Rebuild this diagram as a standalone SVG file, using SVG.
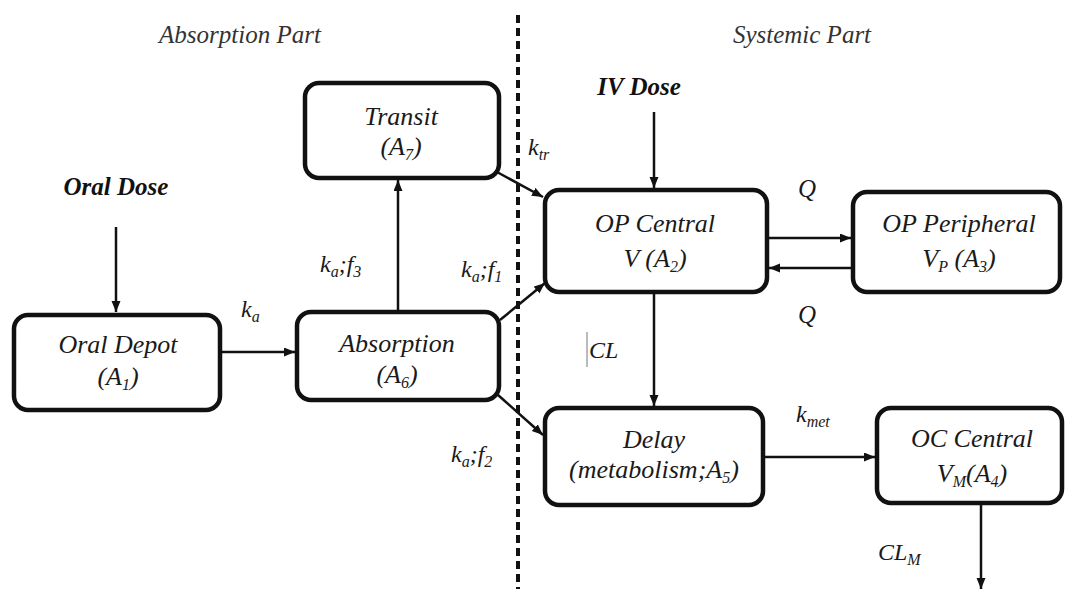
<svg xmlns="http://www.w3.org/2000/svg" width="1068" height="589" viewBox="0 0 1068 589">
<style>
.box{fill:#fff;stroke:#111;stroke-width:4.5}
.c{fill:none;stroke:#111;stroke-width:2.5}
</style>
<defs>
<marker id="ah" markerUnits="userSpaceOnUse" markerWidth="12" markerHeight="10" refX="11" refY="4.5" orient="auto">
<path d="M0,0 L11,4.5 L0,9 z" fill="#111"/>
</marker>
</defs>
<rect width="1068" height="589" fill="#fff"/>
<line x1="518" y1="15" x2="518" y2="589" stroke="#111" stroke-width="4" stroke-dasharray="8 5"/>
<text x="240" y="43" font-family="Times New Roman" font-style="italic" font-size="25" text-anchor="middle" fill="#333">Absorption Part</text>
<text x="802" y="43" font-family="Times New Roman" font-style="italic" font-size="25" text-anchor="middle" fill="#333">Systemic Part</text>
<text x="116" y="195" font-family="Times New Roman" font-style="italic" font-weight="bold" font-size="25" text-anchor="middle" fill="#111">Oral Dose</text>
<text x="639" y="95" font-family="Times New Roman" font-style="italic" font-weight="bold" font-size="25" text-anchor="middle" fill="#111">IV Dose</text>
<g id="connectors">
<path class="c" d="M116,227 V312" marker-end="url(#ah)"/>
<path class="c" d="M220,352 H295" marker-end="url(#ah)"/>
<path class="c" d="M398,311 V180" marker-end="url(#ah)"/>
<path class="c" d="M497,172 L543,197" marker-end="url(#ah)"/>
<path class="c" d="M500,320 L545,283" marker-end="url(#ah)"/>
<path class="c" d="M498,395 L543,435" marker-end="url(#ah)"/>
<path class="c" d="M654,112 V188" marker-end="url(#ah)"/>
<path class="c" d="M767,238 H851" marker-end="url(#ah)"/>
<path class="c" d="M853,268 H769" marker-end="url(#ah)"/>
<path class="c" d="M654,292 V406" marker-end="url(#ah)"/>
<path class="c" d="M763,457 H875" marker-end="url(#ah)"/>
<path class="c" d="M981,503 V589" marker-end="url(#ah)"/>
<line x1="587" y1="332" x2="587" y2="367" stroke="#777" stroke-width="1"/>
<text x="241" y="317" font-family="Times New Roman" font-style="italic" font-size="24" fill="#1a1a1a">k<tspan font-size="16" dy="5">a</tspan></text>
<text x="320" y="272" font-family="Times New Roman" font-style="italic" font-size="24" fill="#1a1a1a">k<tspan font-size="16" dy="5">a</tspan><tspan dy="-5">;f</tspan><tspan font-size="16" dy="5">3</tspan></text>
<text x="461" y="277" font-family="Times New Roman" font-style="italic" font-size="24" fill="#1a1a1a">k<tspan font-size="16" dy="5">a</tspan><tspan dy="-5">;f</tspan><tspan font-size="16" dy="5">1</tspan></text>
<text x="451" y="462" font-family="Times New Roman" font-style="italic" font-size="24" fill="#1a1a1a">k<tspan font-size="16" dy="5">a</tspan><tspan dy="-5">;f</tspan><tspan font-size="16" dy="5">2</tspan></text>
<text x="528" y="155" font-family="Times New Roman" font-style="italic" font-size="24" fill="#1a1a1a">k<tspan font-size="16" dy="5">tr</tspan></text>
<text x="798" y="197" font-family="Times New Roman" font-style="italic" font-size="25" fill="#1a1a1a">Q</text>
<text x="798" y="323" font-family="Times New Roman" font-style="italic" font-size="25" fill="#1a1a1a">Q</text>
<text x="589" y="358" font-family="Times New Roman" font-style="italic" font-size="24" fill="#1a1a1a">CL</text>
<text x="796" y="422" font-family="Times New Roman" font-style="italic" font-size="24" fill="#1a1a1a">k<tspan font-size="16" dy="5">met</tspan></text>
<text x="878" y="560" font-family="Times New Roman" font-style="italic" font-size="24" fill="#1a1a1a">CL<tspan font-size="16" dy="5">M</tspan></text>
</g>
<g id="oral-depot">
<rect class="box" x="14" y="315" width="206" height="95" rx="14"/>
<text x="118" y="353" font-family="Times New Roman" font-style="italic" font-size="26" text-anchor="middle" fill="#1a1a1a">Oral Depot</text>
<text x="118" y="385" font-family="Times New Roman" font-style="italic" font-size="26" text-anchor="middle" fill="#1a1a1a">(A<tspan font-size="16" dy="5">1</tspan><tspan dy="-5">)</tspan></text>
</g>
<g id="absorption">
<rect class="box" x="297" y="312" width="202" height="88" rx="14"/>
<text x="397" y="352" font-family="Times New Roman" font-style="italic" font-size="26" text-anchor="middle" fill="#1a1a1a">Absorption</text>
<text x="397" y="383" font-family="Times New Roman" font-style="italic" font-size="26" text-anchor="middle" fill="#1a1a1a">(A<tspan font-size="16" dy="5">6</tspan><tspan dy="-5">)</tspan></text>
</g>
<g id="transit">
<rect class="box" x="305" y="83" width="194" height="95" rx="14"/>
<text x="401" y="125" font-family="Times New Roman" font-style="italic" font-size="26" text-anchor="middle" fill="#1a1a1a">Transit</text>
<text x="401" y="155" font-family="Times New Roman" font-style="italic" font-size="26" text-anchor="middle" fill="#1a1a1a">(A<tspan font-size="16" dy="5">7</tspan><tspan dy="-5">)</tspan></text>
</g>
<g id="op-central">
<rect class="box" x="545" y="190" width="222" height="102" rx="14"/>
<text x="655" y="232" font-family="Times New Roman" font-style="italic" font-size="26" text-anchor="middle" fill="#1a1a1a">OP Central</text>
<text x="655" y="267" font-family="Times New Roman" font-style="italic" font-size="26" text-anchor="middle" fill="#1a1a1a">V (A<tspan font-size="16" dy="5">2</tspan><tspan dy="-5">)</tspan></text>
</g>
<g id="op-peripheral">
<rect class="box" x="853" y="192" width="207" height="100" rx="14"/>
<text x="959" y="232" font-family="Times New Roman" font-style="italic" font-size="26" text-anchor="middle" fill="#1a1a1a">OP Peripheral</text>
<text x="959" y="267" font-family="Times New Roman" font-style="italic" font-size="26" text-anchor="middle" fill="#1a1a1a">V<tspan font-size="16" dy="5">P</tspan><tspan dy="-5"> (A</tspan><tspan font-size="16" dy="5">3</tspan><tspan dy="-5">)</tspan></text>
</g>
<g id="delay">
<rect class="box" x="545" y="408" width="218" height="97" rx="14"/>
<text x="654" y="448" font-family="Times New Roman" font-style="italic" font-size="26" text-anchor="middle" fill="#1a1a1a">Delay</text>
<text x="654" y="478" font-family="Times New Roman" font-style="italic" font-size="26" text-anchor="middle" fill="#1a1a1a">(metabolism;A<tspan font-size="16" dy="5">5</tspan><tspan dy="-5">)</tspan></text>
</g>
<g id="oc-central">
<rect class="box" x="877" y="408" width="185" height="95" rx="14"/>
<text x="972" y="447" font-family="Times New Roman" font-style="italic" font-size="26" text-anchor="middle" fill="#1a1a1a">OC Central</text>
<text x="972" y="482" font-family="Times New Roman" font-style="italic" font-size="26" text-anchor="middle" fill="#1a1a1a">V<tspan font-size="16" dy="5">M</tspan><tspan dy="-5">(A</tspan><tspan font-size="16" dy="5">4</tspan><tspan dy="-5">)</tspan></text>
</g>
</svg>
